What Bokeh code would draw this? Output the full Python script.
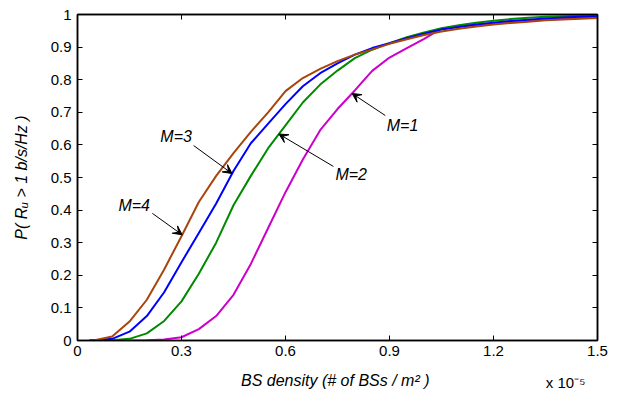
import numpy as np
from bokeh.plotting import figure
from bokeh.models import Range1d, FixedTicker, LinearAxis, Label, Arrow, VeeHead
from bokeh.embed import file_html
from bokeh.resources import INLINE

# BS density (x 1e-5 per m^2)
density = [0.035, 0.05, 0.1, 0.15, 0.2, 0.25, 0.3, 0.35, 0.4, 0.45, 0.5, 0.55, 0.6, 0.65,
           0.7, 0.75, 0.8, 0.85, 0.9, 0.95, 1.0, 1.05, 1.1, 1.15, 1.2, 1.25, 1.3, 1.35,
           1.4, 1.45, 1.5]
p_m1 = [0, 0, 0, 0, 0.001, 0.003, 0.01, 0.035, 0.075, 0.14, 0.235, 0.345, 0.455, 0.555,
        0.645, 0.71, 0.767, 0.827, 0.868, 0.897, 0.925, 0.957, 0.963, 0.968, 0.973, 0.977,
        0.981, 0.984, 0.987, 0.989, 0.991]
p_m2 = [0, 0, 0.001, 0.005, 0.022, 0.06, 0.12, 0.205, 0.3, 0.415, 0.505, 0.59, 0.66, 0.73,
        0.785, 0.828, 0.866, 0.892, 0.912, 0.93, 0.945, 0.958, 0.967, 0.975, 0.981, 0.986,
        0.99, 0.993, 0.995, 0.996, 0.997]
p_m3 = [0, 0.001, 0.005, 0.027, 0.075, 0.148, 0.24, 0.33, 0.42, 0.52, 0.605, 0.665, 0.725,
        0.78, 0.82, 0.85, 0.877, 0.897, 0.912, 0.927, 0.941, 0.954, 0.962, 0.969, 0.975,
        0.98, 0.984, 0.988, 0.991, 0.993, 0.995]
p_m4 = [0, 0.001, 0.012, 0.058, 0.125, 0.218, 0.32, 0.425, 0.505, 0.575, 0.64, 0.70, 0.765,
        0.805, 0.833, 0.857, 0.877, 0.893, 0.91, 0.924, 0.937, 0.948, 0.956, 0.963, 0.969,
        0.974, 0.978, 0.982, 0.985, 0.987, 0.989]

series = [("M=1", p_m1, "#CC00CC"), ("M=2", p_m2, "#008A00"),
          ("M=3", p_m3, "#0000FF"), ("M=4", p_m4, "#A8450C")]

x_ticks = [0, 0.3, 0.6, 0.9, 1.2, 1.5]
x_tick_labels = ["0", "0.3", "0.6", "0.9", "1.2", "1.5"]
y_ticks = [0, 0.1, 0.2, 0.3, 0.4, 0.5, 0.6, 0.7, 0.8, 0.9, 1.0]
y_tick_labels = ["0", "0.1", "0.2", "0.3", "0.4", "0.5", "0.6", "0.7", "0.8", "0.9", "1"]
x_multiplier = "x 10\u207b\u2075"
x_multiplier_at = 1.408

# annotation: name, series, tip x on curve, tail (x, y), text (x, y)
annotations = [
    ("M=1", p_m1, 0.792, (0.888, 0.690), (0.892, 0.660)),
    ("M=2", p_m2, 0.581, (0.738, 0.534), (0.744, 0.509)),
    ("M=3", p_m3, 0.446, (0.335, 0.598), (0.239, 0.626)),
    ("M=4", p_m4, 0.302, (0.216, 0.390), (0.118, 0.414)),
]

FONT = "Liberation Sans"

p = figure(width=621, height=393, output_backend="svg", toolbar_location=None,
           x_range=Range1d(0, 1.5), y_range=Range1d(0, 1),
           min_border_left=77, min_border_right=24, min_border_top=14, min_border_bottom=53)
p.background_fill_color = "white"
p.border_fill_color = "white"
p.outline_line_color = "black"
p.outline_line_width = 1.5
p.xgrid.visible = False
p.ygrid.visible = False

for name, ys, col in series:
    p.line(density, ys, line_color=col, line_width=2)

xt = FixedTicker(ticks=x_ticks)
yt = FixedTicker(ticks=y_ticks)

for ax in p.xaxis:
    ax.ticker = xt
    ax.major_label_overrides = {v: s for v, s in zip(x_ticks, x_tick_labels)}
    ax.axis_label = "BS density  (# of BSs / m\u00b2 )"
    ax.axis_label_standoff = 13
    ax.major_label_standoff = 5
for ax in p.yaxis:
    ax.ticker = yt
    ax.major_label_overrides = {v: s for v, s in zip(y_ticks, y_tick_labels)}
    ax.major_label_standoff = 6
    ax.axis_label = "P( R\u1d64 > 1 b/s/Hz )"
    ax.axis_label_standoff = 18
for ax in p.xaxis + p.yaxis:
    ax.axis_label_text_font = FONT
    ax.axis_label_text_font_style = "italic"
    ax.axis_label_text_font_size = "16px"
    ax.axis_label_text_color = "black"
    ax.major_label_text_font = FONT
    ax.major_label_text_font_size = "15px"
    ax.major_label_text_color = "black"
    ax.major_tick_in = 5
    ax.major_tick_out = 0
    ax.minor_tick_line_color = None
    ax.axis_line_width = 1.5
    ax.major_tick_line_width = 1

top = LinearAxis(ticker=xt, major_label_overrides={v: "" for v in x_ticks},
                 major_label_text_font_size="1px", major_label_standoff=0,
                 major_tick_in=5, major_tick_out=0, minor_tick_line_color=None,
                 axis_line_width=1.5)
right = LinearAxis(ticker=yt, major_label_overrides={v: "" for v in y_ticks},
                   major_label_text_font_size="1px", major_label_standoff=0,
                   major_tick_in=5, major_tick_out=0, minor_tick_line_color=None,
                   axis_line_width=1.5)
p.add_layout(top, "above")
p.add_layout(right, "right")

# x 10^-5 multiplier, drawn as the single tick label of an extra, line-less axis
mult = LinearAxis(ticker=FixedTicker(ticks=[x_multiplier_at]),
                  major_label_overrides={x_multiplier_at: x_multiplier},
                  major_label_text_font=FONT, major_label_text_font_size="15px",
                  major_label_text_color="black", major_label_standoff=-18,
                  major_tick_in=0, major_tick_out=0, major_tick_line_color=None,
                  minor_tick_line_color=None, axis_line_color=None)
p.add_layout(mult, "below")

for name, ys, tipx, tail, txt in annotations:
    tipy = float(np.interp(tipx, density, ys))
    p.add_layout(Arrow(end=VeeHead(size=9, fill_color="black", line_color="black"),
                       x_start=tail[0], y_start=tail[1], x_end=tipx, y_end=tipy,
                       line_color="black", line_width=1))
    p.add_layout(Label(x=txt[0], y=txt[1], text=name, text_font=FONT,
                       text_font_style="italic", text_font_size="16px", text_color="black",
                       text_align="left", text_baseline="middle"))

open("out.html", "w").write(file_html(p, INLINE))
